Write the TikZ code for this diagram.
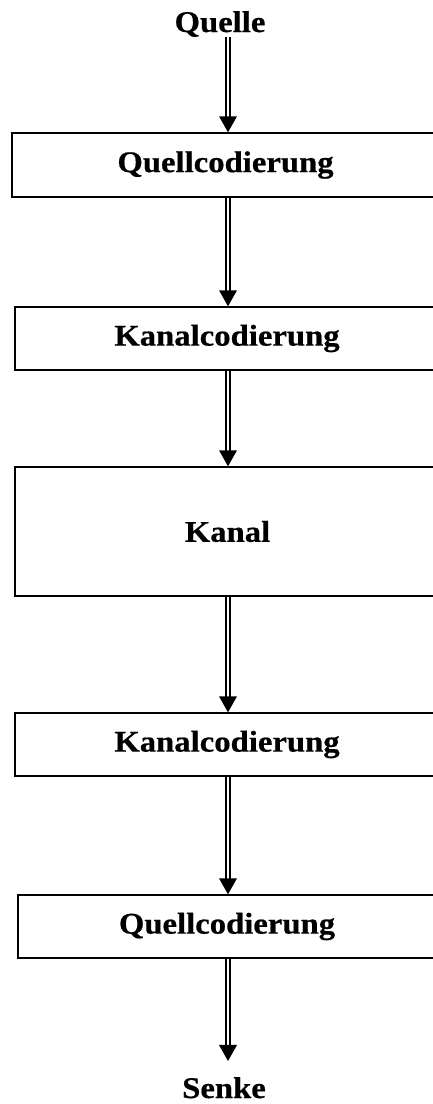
\documentclass[tikz,border=0pt]{standalone}
\usepackage{fontspec}
\setmainfont{Liberation Serif}[FakeStretch=1.09,FakeBold=0.6]
\usetikzlibrary{decorations.markings}
\begin{document}
\begin{tikzpicture}[x=1pt,y=-1pt,
  txt/.style={font=\fontsize{30}{35}\selectfont\bfseries},
  lbl/.style={txt, inner sep=0pt, anchor=base},
  box/.style={txt, draw, line width=1.4pt, inner sep=0pt},
  dbl/.style={double, double distance=2.2pt, line width=1.7pt, shorten >=9pt,
    postaction={decorate, decoration={markings,
      mark=at position 1 with {\fill (0,0) -- (-16pt,9pt) -- (-16pt,-9pt) -- cycle;}}}}]
\useasboundingbox (0,0) rectangle (433,1104);
\clip (0,0) rectangle (433,1104);
\coordinate (ax) at (228,0);
\node[lbl] (quelle) at (220,32) {Quelle};
\node[box, minimum width=427pt, minimum height=64pt] (qc1) at (225.5,165) {Quellcodierung};
\node[box, minimum width=424pt, minimum height=63pt] (kc1) at (227,338.5) {Kanalcodierung};
\node[box, minimum width=425pt, minimum height=129pt] (kanal) at (227.5,531.5) {Kanal};
\node[box, minimum width=424pt, minimum height=63pt] (kc2) at (227,744.5) {Kanalcodierung};
\node[box, minimum width=418pt, minimum height=63pt] (qc2) at (227,926.5) {Quellcodierung};
\node[lbl] (senke) at (224,1098) {Senke};
\draw[dbl] (quelle.south -| ax) -- (qc1.north -| ax);
\draw[dbl] (qc1.south -| ax) -- (kc1.north -| ax);
\draw[dbl] (kc1.south -| ax) -- (kanal.north -| ax);
\draw[dbl] (kanal.south -| ax) -- (kc2.north -| ax);
\draw[dbl] (kc2.south -| ax) -- (qc2.north -| ax);
\draw[dbl] (qc2.south -| ax) -- ([yshift=16pt]senke.north -| ax);
\end{tikzpicture}
\end{document}
